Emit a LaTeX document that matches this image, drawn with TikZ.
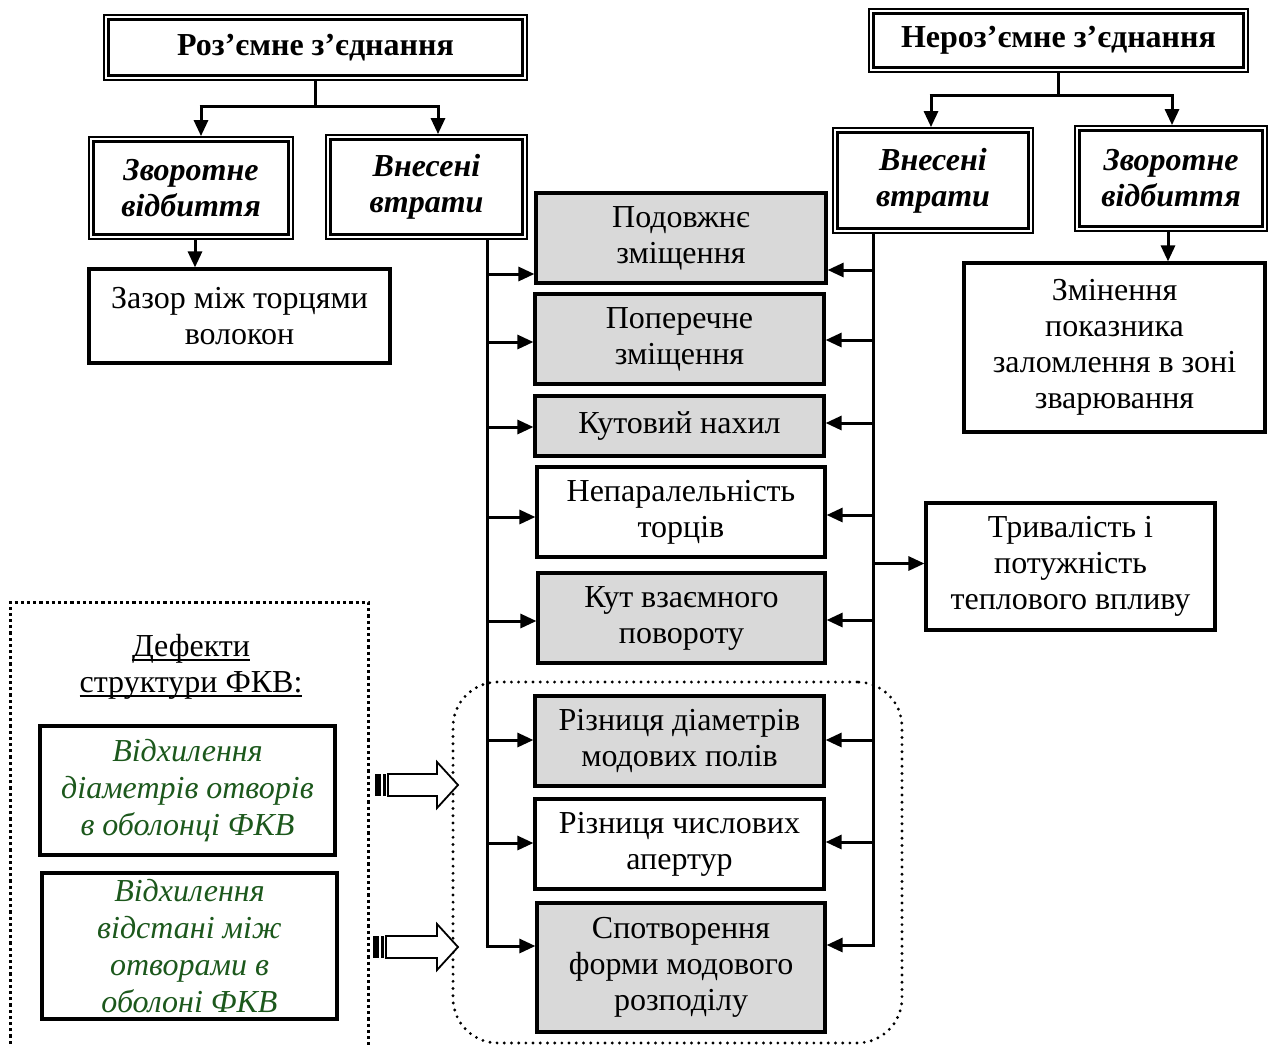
\documentclass[tikz,border=0pt]{standalone}
\usepackage{fontspec}
\setmainfont{Liberation Serif}
\usetikzlibrary{arrows.meta}
\definecolor{boxgray}{HTML}{D9D9D9}
\definecolor{defgreen}{RGB}{28,88,28}
\newcommand{\innerframe}[1]{%
  \draw[line width=3pt] ([xshift=5.5pt,yshift=-5.5pt]#1.north west) rectangle ([xshift=-5.5pt,yshift=5.5pt]#1.south east);}
\newcommand{\myul}[1]{\setbox0\hbox{#1}\rlap{\rule[-4pt]{\wd0}{1.6pt}}\box0}
\begin{document}
\begin{tikzpicture}[x=1pt,y=-1pt,
  txt/.style={font=\fontsize{32}{36}\selectfont, align=center},
  dbox/.style={draw, line width=1.8pt, inner sep=0pt, txt, font=\fontsize{32}{36}\selectfont\bfseries\itshape},
  hbox/.style={dbox, font=\fontsize{32}{36}\selectfont\bfseries},
  sbox/.style={draw, line width=3.2pt, inner sep=0pt, txt, fill=white},
  gbox/.style={sbox, fill=boxgray},
  grbox/.style={sbox, text=defgreen, font=\fontsize{32}{37}\selectfont\itshape},
  conn/.style={line width=3pt},
  arr/.style={line width=3pt, -{Triangle[length=16pt,width=14pt]}},
  hollow/.style={line width=1.8pt, fill=white, line join=miter}
]
\useasboundingbox (0,0) rectangle (1273,1045);

% grouping frames
\draw[line width=3pt, dash pattern=on 3.2pt off 3pt] (10,1050) -- (10,602) -- (368,602) -- (368,1050);
\node[draw, line width=3.2pt, dash pattern=on 0pt off 7.2pt, line cap=round, rounded corners=45pt,
      minimum width=449pt, minimum height=361pt, inner sep=0pt] (grp) at (677.5,862.5) {};

% header boxes
\node[hbox, minimum width=423pt, minimum height=65pt] (hL) at (315.5,47.5) {Роз’ємне з’єднання};
\innerframe{hL}
\node[hbox, minimum width=379pt, minimum height=63pt] (hR) at (1058.5,40.5) {Нероз’ємне з’єднання};
\innerframe{hR}

% second level boxes
\node[dbox, minimum width=204pt, minimum height=102pt] (zL) at (191,188) {Зворотне\\відбиття};
\innerframe{zL}
\node[dbox, minimum width=201pt, minimum height=104pt] (vL) at (426.5,187) {Внесені\\втрати};
\innerframe{vL}
\node[dbox, minimum width=200pt, minimum height=105pt] (vR) at (933,180.5) {Внесені\\втрати};
\innerframe{vR}
\node[dbox, minimum width=192pt, minimum height=105pt] (zR) at (1171,178.5) {Зворотне\\відбиття};
\innerframe{zR}

% other boxes
\node[sbox, minimum width=301pt, minimum height=94pt] (zz) at (239.5,316) {Зазор між торцями\\волокон};
\node[gbox, minimum width=290pt, minimum height=90pt] (b1) at (681,238) {Подовжнє\\зміщення};
\node[gbox, minimum width=289pt, minimum height=90pt] (b2) at (679.5,339) {Поперечне\\зміщення};
\node[gbox, minimum width=289pt, minimum height=60pt] (b3) at (679.5,426) {Кутовий нахил};
\node[sbox, minimum width=288pt, minimum height=90pt] (b4) at (681,512) {Непаралельність\\торців};
\node[gbox, minimum width=287pt, minimum height=90pt] (b5) at (681.5,618) {Кут взаємного\\повороту};
\node[gbox, minimum width=289pt, minimum height=90pt] (b6) at (679.5,741) {Різниця діаметрів\\модових полів};
\node[sbox, minimum width=289pt, minimum height=90pt] (b7) at (679.5,844) {Різниця числових\\апертур};
\node[gbox, minimum width=288pt, minimum height=129pt] (b8) at (681,967.5) {Спотворення\\форми модового\\розподілу};
\node[sbox, minimum width=301pt, minimum height=169pt] (zm) at (1114.5,347.5) {Змінення\\показника\\заломлення в зоні\\зварювання};
\node[sbox, minimum width=289pt, minimum height=127pt] (tr) at (1070.5,566.5) {Тривалість і\\потужність\\теплового впливу};

% defects
\node[txt, inner sep=0pt] (def) at (191,667) {\myul{Дефекти}\\\myul{структури ФКВ:}};
\node[grbox, minimum width=295pt, minimum height=129pt] (g1) at (187.5,790.5) {Відхилення\\діаметрів отворів\\в оболонці ФКВ};
\node[grbox, minimum width=295pt, minimum height=146pt] (g2) at (189.5,946) {Відхилення\\відстані між\\отворами в\\оболоні ФКВ};

% striped hollow arrows
\fill (375,774) rectangle (381,796);
\fill (383,774) rectangle (385.5,796);
\draw[hollow] (388,774) -- (437,774) -- (437,762) -- (458,785) -- (437,808) -- (437,796) -- (388,796) -- cycle;
\fill (373,936) rectangle (379,958);
\fill (381,936) rectangle (383.5,958);
\draw[hollow] (386,936) -- (437,936) -- (437,924) -- (458,947) -- (437,970) -- (437,958) -- (386,958) -- cycle;

% top connectors
\coordinate (jLa) at (201,106);
\coordinate (jLb) at (438,106);
\draw[conn] (hL.south) -- (hL.south |- jLa);
\draw[conn] ([xshift=-1.5pt]jLa) -- ([xshift=1.5pt]jLb);
\draw[arr] (jLa) -- (jLa |- zL.north);
\draw[arr] (jLb) -- (jLb |- vL.north);

\coordinate (jRa) at (931,95);
\coordinate (jRb) at (1172,95);
\draw[conn] (hR.south) -- (hR.south |- jRa);
\draw[conn] ([xshift=-1.5pt]jRa) -- ([xshift=1.5pt]jRb);
\draw[arr] (jRa) -- (jRa |- vR.north);
\draw[arr] (jRb) -- (jRb |- zR.north);

% reflection arrows
\coordinate (xl) at (195,0);
\draw[arr] (zL.south -| xl) -- (zz.north -| xl);
\coordinate (xr) at (1168,0);
\draw[arr] (zR.south -| xr) -- (zm.north -| xr);

% left bus
\coordinate (busL) at (487,946);
\draw[conn] (vL.south -| busL) -- ([yshift=-1.5pt]busL);
\coordinate (l1) at ([yshift=-36pt]b1.west);
\draw[arr] (busL |- l1) -- (l1);
\foreach \b/\dy in {b2/-3,b3/-1,b4/-5,b5/-3,b6/1,b7/1}{
  \coordinate (lt) at ([yshift=\dy pt]\b.west);
  \draw[arr] (busL |- lt) -- (lt);
}
\draw[arr] ([xshift=-1.5pt]busL) -- (b8.west |- busL);

% right bus
\coordinate (busR) at (873,945);
\draw[conn] (vR.south -| busR) -- ([yshift=-1.5pt]busR);
\coordinate (r1) at ([yshift=-32pt]b1.east);
\draw[arr] (busR |- r1) -- (r1);
\foreach \b/\dy in {b2/-1,b3/3,b4/-3,b5/-2,b6/1,b7/2}{
  \coordinate (rt) at ([yshift=\dy pt]\b.east);
  \draw[arr] (busR |- rt) -- (rt);
}
\draw[arr] ([xshift=1.5pt]busR) -- (b8.east |- busR);
\coordinate (tt) at ([yshift=3pt]tr.west);
\draw[arr] (busR |- tt) -- (tt);
\end{tikzpicture}
\end{document}
